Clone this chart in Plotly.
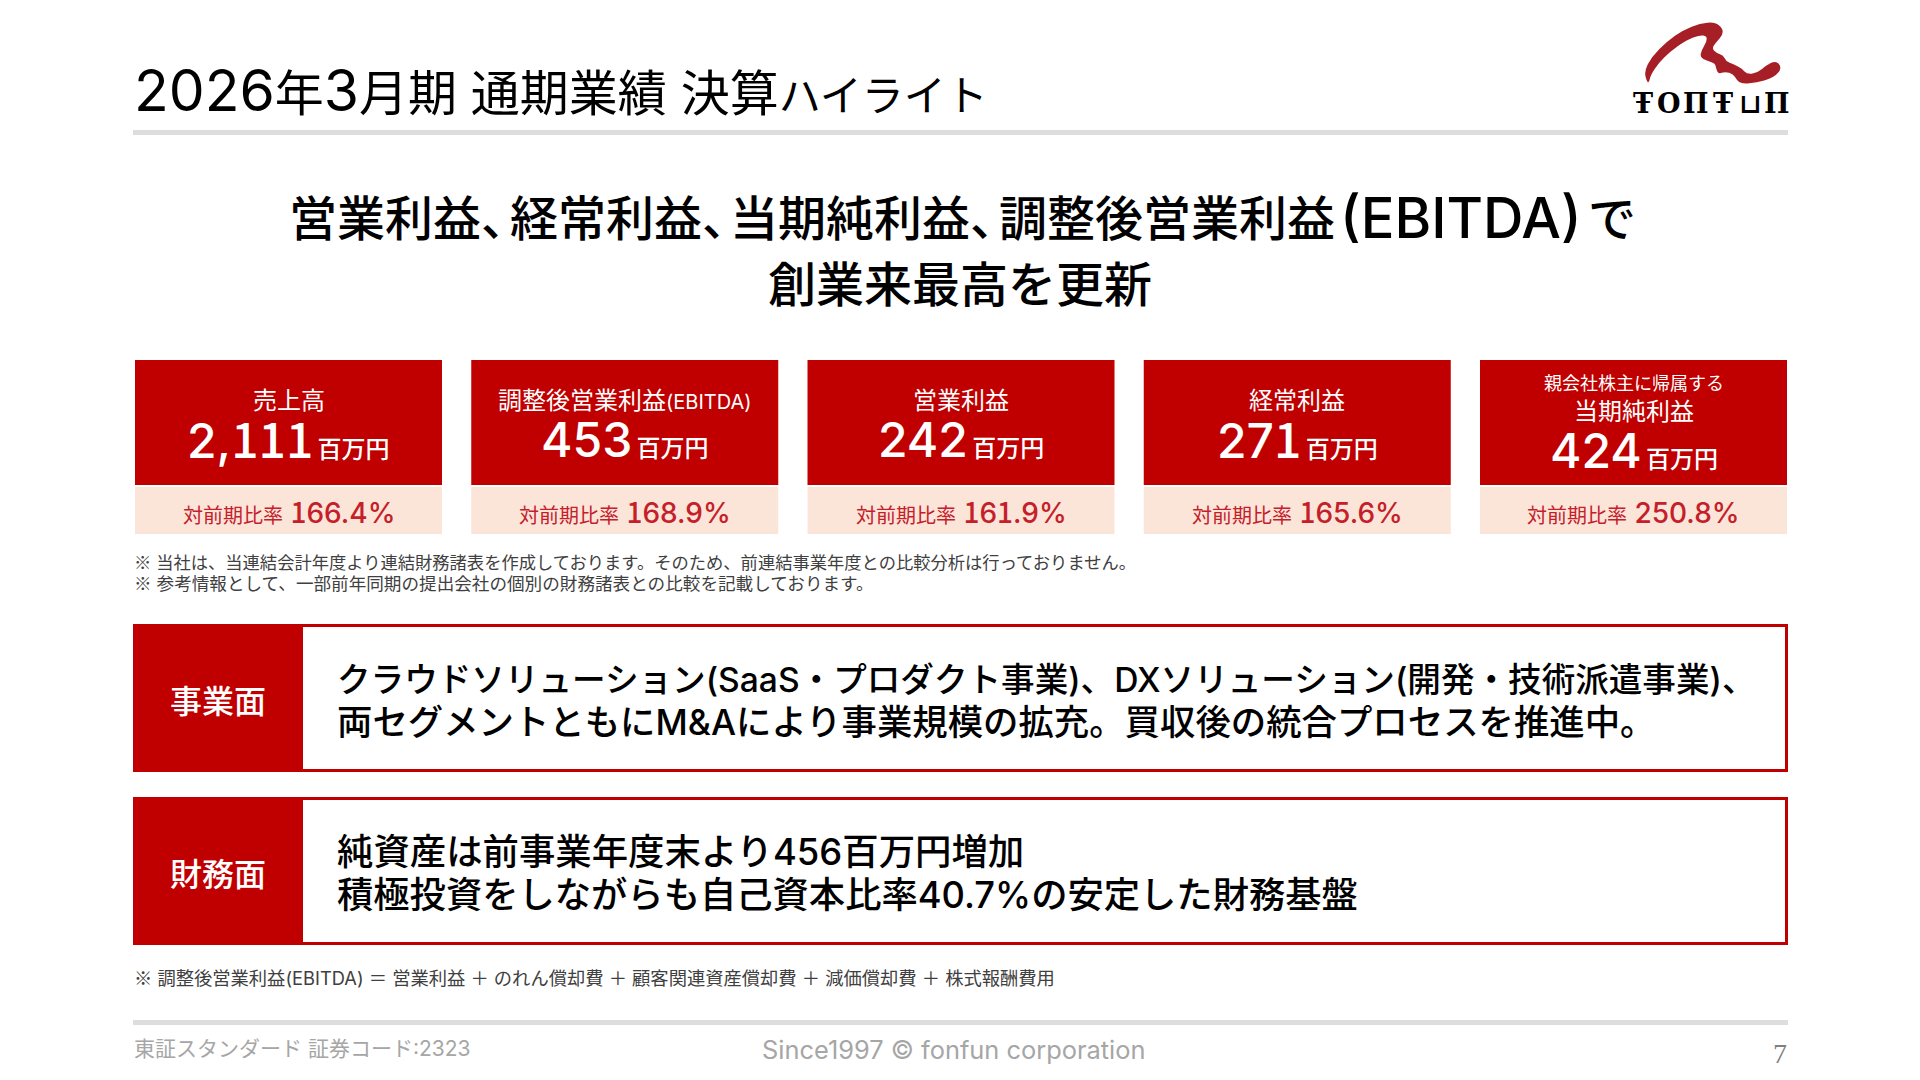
import plotly.graph_objects as go

# KPI cards
card_labels = ["売上高", "調整後営業利益", "営業利益", "経常利益", "当期純利益"]
card_label_suffix = ["", "(EBITDA)", "", "", ""]
card_label_top = ["", "", "", "", "親会社株主に帰属する"]
card_values = ["2,111", "453", "242", "271", "424"]
card_ratios = ["166.4%", "168.9%", "161.9%", "165.6%", "250.8%"]
value_unit = "百万円"
ratio_label = "対前期比率"

title_parts = ["2026", "年", "3", "月期 通期業績 決算", "ハイライト"]
headline_parts = ["営業利益、", "経常利益、", "当期純利益、", "調整後営業利益", "(EBITDA)", "で"]
headline_second = "創業来最高を更新"
notes = [
    "※ 当社は、当連結会計年度より連結財務諸表を作成しております。そのため、前連結事業年度との比較分析は行っておりません。",
    "※ 参考情報として、一部前年同期の提出会社の個別の財務諸表との比較を記載しております。",
]
panel_labels = ["事業面", "財務面"]
panel_lines = [
    [
        "クラウドソリューション(SaaS・プロダクト事業)、DXソリューション(開発・技術派遣事業)、",
        "両セグメントともにM&Aにより事業規模の拡充。買収後の統合プロセスを推進中。",
    ],
    [
        "純資産は前事業年度末より456百万円増加",
        "積極投資をしながらも自己資本比率40.7%の安定した財務基盤",
    ],
]
footnote = "※ 調整後営業利益(EBITDA) ＝ 営業利益 ＋ のれん償却費 ＋ 顧客関連資産償却費 ＋ 減価償却費 ＋ 株式報酬費用"
footer_left = "東証スタンダード 証券コード:2323"
footer_center = "Since1997 © fonfun corporation"
page_number = "7"
logo_letters = ["Ŧ", "O", "Π", "Ŧ", "⊔", "Π"]

RED = "#C00000"
RATIO_RED = "#C5202A"
PALE = "#FBE5D9"
GREY_RULE = "#DDDDDD"
# Inter for latin and digits, everything else falls through to Noto
CJK = "Noto Sans CJK JP"
FONT = f"Inter, {CJK}"

# the slide font sets kana tighter, so these lines need their own size
PANEL_SIZES = [[33.6, 35.4], [36.4, 36.3]]
# left edge of each headline piece (the slide has tight punctuation)
HEADLINE_X = [288, 508.5, 728.5, 998, 1339, 1587]
LOGO_LETTER_X = [1643, 1669, 1696, 1723, 1750, 1777]
# a Noto glyph in an Inter line makes the text box taller, which pushes it down
NOTO_SHIFT = 2.5

# logo outline
logo_swoosh = [
    (262, 248), (252, 215), (275, 170), (320, 125), (370, 90), (420, 70), (465, 66),
    (488, 85), (488, 105), (470, 125), (455, 145), (470, 160), (490, 165), (498, 185),
    (520, 192), (545, 205), (560, 222), (590, 220), (620, 195), (645, 183), (662, 195),
    (660, 215), (635, 235), (590, 248), (545, 252), (530, 240), (520, 222), (495, 215),
    (475, 222), (468, 205), (465, 190), (440, 182), (420, 172), (425, 150), (440, 125),
    (440, 108), (420, 105), (380, 120), (330, 155), (295, 190), (272, 225), (268, 245),
]


def smooth_path(points):
    # quadratic curves through the midpoints, so the outline has no corners
    pts = [(1560 + x / 3, y / 3) for x, y in points]
    mids = [((a[0] + b[0]) / 2, (a[1] + b[1]) / 2) for a, b in zip(pts, pts[1:] + pts[:1])]
    path = f"M {mids[-1][0]:.1f} {mids[-1][1]:.1f}"
    for p, m in zip(pts, mids):
        path += f" Q {p[0]:.1f} {p[1]:.1f} {m[0]:.1f} {m[1]:.1f}"
    return path + " Z"


def span(text, style):
    return f'<span style="{style}">{text}</span>'


def cjk_mark(text):
    # Inter has a tiny reference mark
    return text.replace("※", span("※", f"font-family:{CJK}"))


def wide_ones(text):
    # Inter's 1 is much narrower than the slide's
    return text.replace("1", span("1", f"font-family:{CJK}"))


fig = go.Figure()
shapes = []
annotations = []


def add_rect(x0, y0, x1, y1, fill, line=None, width=0):
    shapes.append(
        dict(
            type="rect", xref="x", yref="y", x0=x0, y0=y0, x1=x1, y1=y1,
            fillcolor=fill, line=dict(color=line or fill, width=width), layer="below",
        )
    )


def add_text(x, y, text, size, color="#000000", anchor="center", weight=400, family=FONT):
    annotations.append(
        dict(
            xref="x", yref="y", x=x, y=y, text=text, showarrow=False, xanchor=anchor,
            yanchor="middle", align=anchor, borderpad=0,
            font=dict(family=family, size=size, color=color, weight=weight),
        )
    )


# header
title_html = (
    span(title_parts[0], "font-size:57px")
    + title_parts[1]
    + span(title_parts[2], "font-size:57px")
    + title_parts[3]
    + span(title_parts[4], "font-size:42px")
)
add_text(133, 90, title_html, 49, anchor="left")
add_rect(133, 130, 1788, 135, GREY_RULE)
shapes.append(
    dict(type="path", xref="x", yref="y", path=smooth_path(logo_swoosh),
         fillcolor="#A61E26", line=dict(width=0))
)
for x, letter in zip(LOGO_LETTER_X, logo_letters):
    add_text(x, 103, letter, 27, weight=700, family="DejaVu Serif")

# headline
for x, part in zip(HEADLINE_X, headline_parts):
    size = 56 if part.startswith("(") else 48
    add_text(x, 218, part, size, anchor="left", weight=500)
add_text(960, 284, headline_second, 48, weight=500)

# KPI cards
card_x = 135
card_w = 307
card_pitch = 336.25
for i, label in enumerate(card_labels):
    x0 = card_x + i * card_pitch
    mid = x0 + card_w / 2
    add_rect(x0, 360, x0 + card_w, 485, RED)
    add_rect(x0, 487, x0 + card_w, 534, PALE)
    label_y, value_y = 400, 439
    if card_label_top[i]:
        add_text(mid, 383, card_label_top[i], 18, "#FFFFFF")
        label_y, value_y = 411, 450
    suffix = span(card_label_suffix[i], "font-size:20px") if card_label_suffix[i] else ""
    add_text(mid, label_y, label + suffix, 24, "#FFFFFF")
    value_shift = NOTO_SHIFT if "1" in card_values[i] else 0
    add_text(
        mid, value_y - value_shift,
        wide_ones(card_values[i]) + span(" ", "font-size:16px") + span(value_unit, "font-size:24px"),
        48, "#FFFFFF", weight=500,
    )
    ratio_shift = NOTO_SHIFT if "1" in card_ratios[i] else 0
    add_text(
        mid, 513 - ratio_shift,
        span(ratio_label, "font-size:20px;font-weight:400") + " " + wide_ones(card_ratios[i]),
        28, RATIO_RED, weight=500,
    )

# notes under the cards
add_text(133, 561, cjk_mark(notes[0]), 17.3, "#404040", anchor="left")
add_text(133, 582, cjk_mark(notes[1]), 17.6, "#404040", anchor="left")

# business / finance panels
panel_top = [624, 797]
for top, name, lines, sizes in zip(panel_top, panel_labels, panel_lines, PANEL_SIZES):
    add_rect(134.5, top + 1.5, 1786.5, top + 146.5, "#FFFFFF", RED, 3)
    add_rect(133, top, 303, top + 148, RED)
    add_text(218, top + 77, name, 32, "#FFFFFF", weight=500)
    add_text(336, top + 55, lines[0], sizes[0], anchor="left", weight=500)
    add_text(336, top + 98, lines[1], sizes[1], anchor="left", weight=500)

# footer
add_text(133, 977, cjk_mark(footnote), 18.3, "#404040", anchor="left")
add_rect(133, 1020, 1788, 1025, GREY_RULE)
add_text(133, 1048, footer_left, 21, "#A6A6A6", anchor="left")
add_text(953, 1049, footer_center, 25.4, "#A6A6A6")
add_text(1780, 1053, page_number, 28, "#808080", family="Liberation Serif")

fig.update_layout(
    width=1920,
    height=1080,
    margin=dict(l=0, r=0, t=0, b=0),
    paper_bgcolor="#FFFFFF",
    plot_bgcolor="#FFFFFF",
    showlegend=False,
    shapes=shapes,
    annotations=annotations,
    xaxis=dict(range=[0, 1920], visible=False, fixedrange=True),
    yaxis=dict(range=[1080, 0], visible=False, fixedrange=True),
)

# the page's default body margin would push the slide off by 8px
fig.write_html(
    "out.html",
    config={"displayModeBar": False},
    post_script="document.body.style.margin='0';",
)
